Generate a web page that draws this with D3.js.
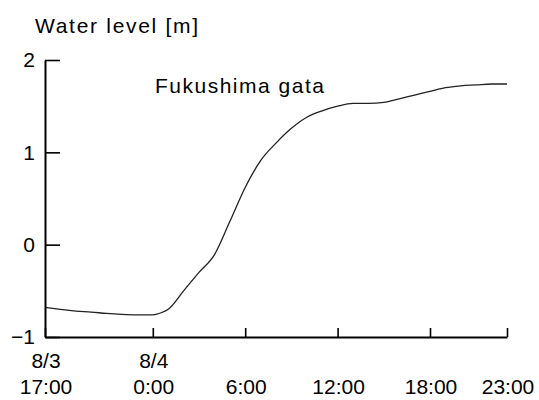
<!DOCTYPE html>
<html>
<head>
<meta charset="utf-8">
<script src="https://cdn.jsdelivr.net/npm/d3@7"></script>
<style>
  html, body { margin: 0; padding: 0; background: #fff; }
  text { font-family: "Liberation Sans", Arial, sans-serif; fill: #000; }
</style>
</head>
<body>
<svg id="chart" width="539" height="400"></svg>
<script>
// Hours relative to 8/4 0:00
const hours = [-7, -6, -5, -4, -3, -2, -1, 0, 0.5, 1, 2, 3, 4, 5, 6, 7, 8, 9, 10, 11, 12, 13, 14, 15, 16, 17, 18, 19, 20, 21, 22, 23];
const levels = [-0.68, -0.70, -0.72, -0.73, -0.745, -0.755, -0.76, -0.76, -0.74, -0.70, -0.50, -0.30, -0.11, 0.25, 0.62, 0.91, 1.10, 1.26, 1.38, 1.45, 1.50, 1.53, 1.53, 1.54, 1.58, 1.62, 1.66, 1.70, 1.72, 1.73, 1.74, 1.74];

const xTickValues = [-7, 0, 6, 12, 18, 23];
const xTickDates = ["8/3", "8/4", "", "", "", ""];
const xTickTimes = ["17:00", "0:00", "6:00", "12:00", "18:00", "23:00"];
const yTickValues = [-1, 0, 1, 2];

const yLabel = "Water level [m]";
const seriesLabel = "Fukushima gata";

const svg = d3.select("#chart");
const x = d3.scaleLinear().domain([-7, 23]).range([45, 507]);
const y = d3.scaleLinear().domain([-1, 2]).range([337, 60]);

// Data line
const line = d3.line().x((d, i) => x(hours[i])).y(d => y(d)).curve(d3.curveMonotoneX);
svg.append("path")
  .datum(levels)
  .attr("d", line)
  .attr("fill", "none")
  .attr("stroke", "#222")
  .attr("stroke-width", 1.3);

// X axis
const xAxis = d3.axisBottom(x)
  .tickValues(xTickValues)
  .tickSizeInner(-9)
  .tickSizeOuter(0)
  .tickFormat("");
const gx = svg.append("g").attr("transform", `translate(0,${y(-1)})`).call(xAxis);
gx.select(".domain").attr("stroke", "#000").attr("stroke-width", 2);
gx.selectAll(".tick line").attr("stroke", "#000").attr("stroke-width", 1.6);

xTickValues.forEach((v, i) => {
  if (xTickDates[i]) {
    svg.append("text")
      .attr("x", x(v) + 1)
      .attr("y", 368)
      .attr("text-anchor", "middle")
      .attr("font-size", 21)
      .text(xTickDates[i]);
  }
  svg.append("text")
    .attr("x", x(v) + 1)
    .attr("y", 394)
    .attr("text-anchor", "middle")
    .attr("font-size", 21)
    .text(xTickTimes[i]);
});

// Y axis
const yAxis = d3.axisLeft(y)
  .tickValues(yTickValues)
  .tickSizeInner(-15)
  .tickSizeOuter(0)
  .tickPadding(10)
  .tickFormat(d => d < 0 ? "\u2212" + Math.abs(d) : d);
const gy = svg.append("g").attr("transform", `translate(${x(-7)},0)`).call(yAxis);
gy.select(".domain").attr("stroke", "#000").attr("stroke-width", 2);
gy.selectAll(".tick line").attr("stroke", "#000").attr("stroke-width", 1.6);
gy.selectAll(".tick text")
  .attr("font-size", 21)
  .attr("font-family", "'Liberation Sans', Arial, sans-serif")
  .attr("fill", "#000");

// Titles
svg.append("text")
  .attr("x", 35)
  .attr("y", 33)
  .attr("font-size", 21)
  .attr("letter-spacing", 1.7)
  .text(yLabel);

svg.append("text")
  .attr("x", 155)
  .attr("y", 93)
  .attr("font-size", 21)
  .attr("letter-spacing", 1.5)
  .text(seriesLabel);
</script>
</body>
</html>
